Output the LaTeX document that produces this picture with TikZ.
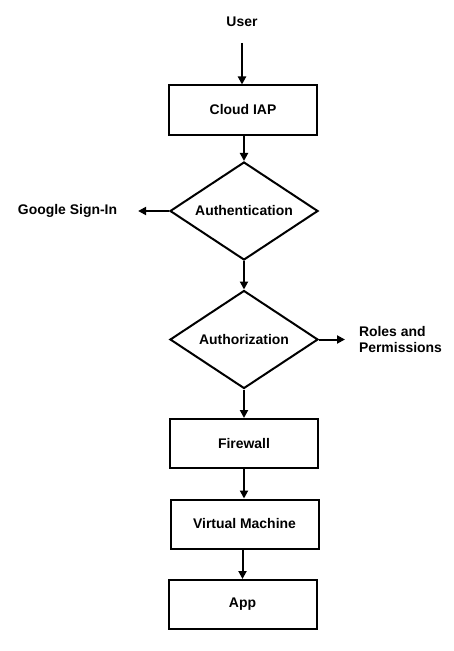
\documentclass[tikz,border=0pt]{standalone}
\usepackage{fontspec}
\setmainfont{Liberation Sans}
\usepackage{tikz}
\usetikzlibrary{shapes.geometric, arrows.meta, positioning}

\begin{document}
\begin{tikzpicture}[
    x=1bp, y=-1bp,
    font=\fontsize{14}{17}\selectfont\bfseries,
    line width=2bp,
    box/.style={rectangle, draw=black, fill=white, minimum width=148bp, minimum height=49bp, inner sep=0pt, align=center},
    check/.style={diamond, draw=black, fill=white, aspect=1.5, minimum width=148bp, minimum height=98bp, inner sep=0pt, align=center},
    lbl/.style={inner sep=0pt, align=left},
    flow/.style={-{Triangle[length=8bp, width=8bp]}},
]
\useasboundingbox (0,0) rectangle (454,651);

% Source
\node[lbl] (user) at (242,22) {User};

% Boxes and checks
\node[box] (iap) at (243,110) {Cloud IAP};
\node[check] (authn) at (244,211) {Authentication};
\node[check] (authz) at (244,339.5) {Authorization};
\node[box] (fw) at (244,443.5) {Firewall};
\node[box] (vm) at (244.5,524) {Virtual Machine};
\node[box] (app) at (242.5,604.5) {App};

% Side outputs
\node[lbl] (google) at (67.5,211) {Google Sign-In};
\node[lbl, anchor=west] (roles) at (358,339.5) {Roles and\\Permissions};

% Edges
\draw[flow, shorten <=15bp] (user.south) -- (user.south |- iap.north);
\draw[flow] (authn.north |- iap.south) -- (authn.north);
\draw[flow, shorten >=20bp] (authn) -- (google);
\draw[flow] (authn.south) -- (authz.north);
\draw[flow, shorten >=13bp] (authz) -- (roles);
\draw[flow] (authz.south) -- (authz.south |- fw.north);
\draw[flow] (fw.south) -- (fw.south |- vm.north);
\draw[flow] (app.north |- vm.south) -- (app.north);

\end{tikzpicture}
\end{document}
